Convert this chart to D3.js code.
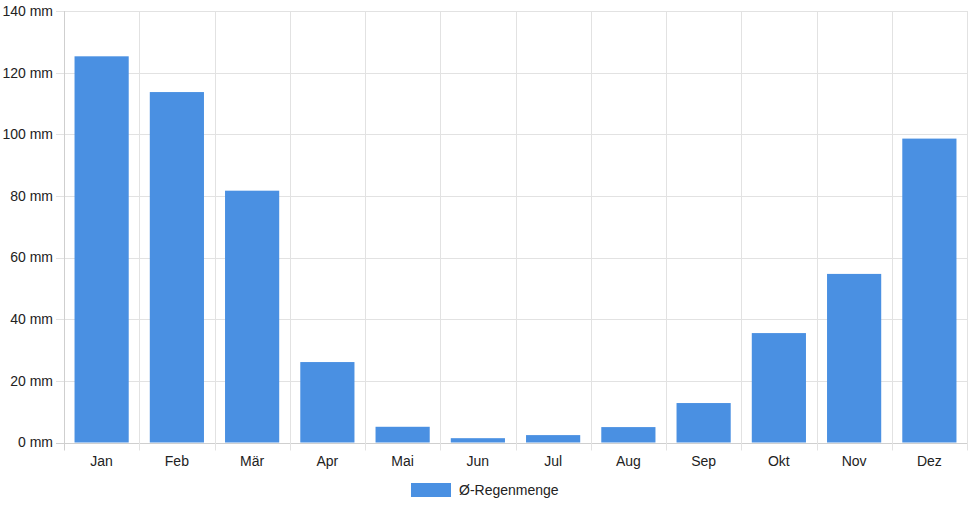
<!DOCTYPE html>
<html><head><meta charset="utf-8">
<script src="https://cdn.jsdelivr.net/npm/d3@7"></script>
<style>body{margin:0;background:#fff}svg{display:block;font-family:"Liberation Sans",Arial,sans-serif}</style>
</head><body><svg id="c" width="968" height="508"></svg>
<script>
const months = ["Jan","Feb","Mär","Apr","Mai","Jun","Jul","Aug","Sep","Okt","Nov","Dez"];
const rain = [125.3, 113.7, 81.7, 26.1, 5.1, 1.4, 2.4, 5.0, 12.8, 35.5, 54.7, 98.6];
const yTicks = [0, 20, 40, 60, 80, 100, 120, 140];
const seriesName = "Ø-Regenmenge";

const svg = d3.select("#c");
const L = 64, R = 967, T = 11, B = 442.5;
const x = d3.scaleBand().domain(months).range([L, R]).paddingInner(0).paddingOuter(0);
const y = d3.scaleLinear().domain([0, 140]).range([B, T]);
const grid = "#e2e2e2", axisC = "#cfcfcf", blue = "#4a90e2";

// horizontal grid
svg.append("g").selectAll("line").data(yTicks).join("line")
  .attr("x1", L - 8).attr("x2", R).attr("y1", d => Math.round(y(d)) + 0.5).attr("y2", d => Math.round(y(d)) + 0.5)
  .attr("stroke", d => d === 0 ? axisC : grid).attr("stroke-width", 1);
// vertical grid
const vx = months.map(m => x(m)).concat([R]);
svg.append("g").selectAll("line").data(vx).join("line")
  .attr("x1", d => Math.round(d) + 0.5).attr("x2", d => Math.round(d) + 0.5)
  .attr("y1", T).attr("y2", B + 8)
  .attr("stroke", (d, i) => i === 0 ? axisC : grid).attr("stroke-width", 1);

// y labels
svg.append("g").selectAll("text").data(yTicks).join("text")
  .attr("x", 53).attr("y", d => y(d)).attr("dy", "0.35em").attr("text-anchor", "end")
  .attr("font-size", 14).attr("fill", "#222").text(d => d + " mm");

// bars
const bw = x.bandwidth() * 0.72;
svg.append("g").selectAll("rect").data(rain).join("rect")
  .attr("x", (d, i) => x(months[i]) + (x.bandwidth() - bw) / 2)
  .attr("width", bw)
  .attr("y", d => y(d)).attr("height", d => B - y(d))
  .attr("fill", blue);

// x labels
svg.append("g").selectAll("text").data(months).join("text")
  .attr("x", d => x(d) + x.bandwidth() / 2).attr("y", 461).attr("dy", "0.35em")
  .attr("text-anchor", "middle").attr("font-size", 14).attr("fill", "#222").text(d => d);

// legend
const lg = svg.append("g");
lg.append("rect").attr("x", 411).attr("y", 483).attr("width", 40).attr("height", 14).attr("fill", blue);
lg.append("text").attr("x", 459).attr("y", 490).attr("dy", "0.35em").attr("font-size", 14).attr("fill", "#222").text(seriesName);
</script></body></html>
